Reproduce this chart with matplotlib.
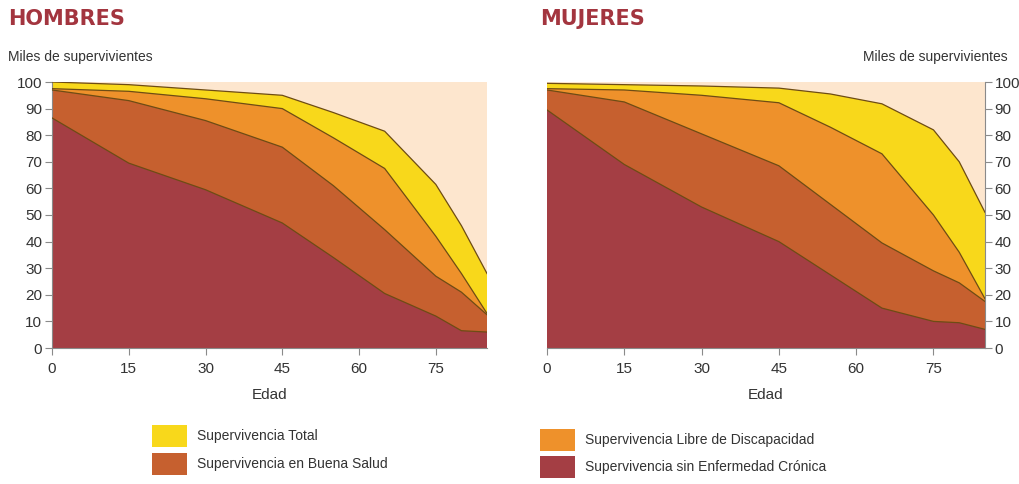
#!/usr/bin/env python3
"""
Curvas de supervivencia por sexo (Hombres / Mujeres), areas superpuestas.
"""

import matplotlib
matplotlib.use('Agg')
import matplotlib.pyplot as plt
from matplotlib.patches import Rectangle

# Edades de los puntos de cada curva
edades = [0, 15, 30, 45, 55, 65, 75, 80, 85]

# Hombres (miles de supervivientes)
h_total = [100, 99, 97, 95, 88.5, 81.5, 61.5, 46, 28]
h_libre = [97.5, 96.5, 93.7, 90, 79, 67.5, 42, 28, 13]
h_salud = [97, 93, 85.5, 75.5, 61, 44.5, 27, 21, 12.5]
h_cronica = [86.5, 69.5, 59.5, 47, 34, 20.5, 12, 6.5, 6]

# Mujeres (miles de supervivientes)
m_total = [99.5, 99, 98.5, 97.7, 95.5, 91.8, 82, 70, 51]
m_libre = [97.5, 97, 95, 92.2, 83, 73, 50, 36, 18.5]
m_salud = [97, 92.5, 80.5, 68.5, 54, 39.5, 29, 24.5, 17.5]
m_cronica = [89.5, 69, 53, 40, 27.5, 15, 10, 9.5, 7]

xticks = [0, 15, 30, 45, 60, 75]
yticks = [0, 10, 20, 30, 40, 50, 60, 70, 80, 90, 100]

etiquetas = ['Supervivencia Total', 'Supervivencia Libre de Discapacidad',
             'Supervivencia en Buena Salud', 'Supervivencia sin Enfermedad Crónica']
colores = ['#F8D81B', '#EE912B', '#C6602F', '#A43E44']
fondo = '#FDE6CE'
borde = '#6E4C14'
titulo_color = '#A3353F'
texto = '#333333'

plt.rcParams['font.family'] = ['Liberation Sans', 'DejaVu Sans']

fig = plt.figure(figsize=(10.19, 4.84), dpi=100)
ax_h = fig.add_axes([52 / 1019, 1 - 348 / 484, 435 / 1019, 266 / 484])
ax_m = fig.add_axes([547 / 1019, 1 - 348 / 484, 438 / 1019, 266 / 484])


def dibujar(ax, series, lado):
    ax.set_facecolor(fondo)
    for vals, col in zip(series, colores):
        ax.fill_between(edades, 0, vals, facecolor=col, edgecolor='none', zorder=2)
        ax.plot(edades, vals, color=borde, linewidth=0.9, zorder=3)
    ax.set_xlim(0, 85)
    ax.set_ylim(0, 100)
    ax.set_xticks(xticks)
    ax.set_yticks(yticks)
    for s in ['top', 'right', 'left', 'bottom']:
        ax.spines[s].set_visible(False)
    ax.spines['bottom'].set_visible(True)
    ax.spines['bottom'].set_color('#8a8a8a')
    ax.spines[lado].set_visible(True)
    ax.spines[lado].set_color('#8a8a8a')
    if lado == 'right':
        ax.yaxis.tick_right()
    ax.tick_params(axis='both', colors='#8a8a8a', labelcolor=texto,
                   labelsize=11, length=5, width=0.8)
    ax.tick_params(axis='y', pad=2)
    ax.tick_params(axis='x', pad=5)
    ax.set_xlabel('Edad', fontsize=11, color=texto, labelpad=9)


dibujar(ax_h, [h_total, h_libre, h_salud, h_cronica], 'left')
dibujar(ax_m, [m_total, m_libre, m_salud, m_cronica], 'right')

# Titulos
fig.text(8 / 1019, 1 - 19 / 484, 'HOMBRES', fontsize=15, fontweight='bold',
         color=titulo_color, va='center', family=['DejaVu Sans'])
fig.text(540 / 1019, 1 - 19 / 484, 'MUJERES', fontsize=15, fontweight='bold',
         color=titulo_color, va='center', family=['DejaVu Sans'])
fig.text(8 / 1019, 1 - 57 / 484, 'Miles de supervivientes', fontsize=10,
         color=texto, va='center')
fig.text(1008 / 1019, 1 - 57 / 484, 'Miles de supervivientes', fontsize=10,
         color=texto, va='center', ha='right')

# Leyenda
pos = [(152, 436), (540, 440), (152, 464), (540, 467)]
for (px, py), col, lab in zip(pos, colores, etiquetas):
    fig.patches.append(Rectangle((px / 1019, 1 - (py + 11) / 484), 35 / 1019, 22 / 484,
                                 facecolor=col, edgecolor='none', transform=fig.transFigure))
    fig.text((px + 45) / 1019, 1 - py / 484, lab, fontsize=10, color=texto, va='center')

fig.savefig('out.png', dpi=100, facecolor='white')
